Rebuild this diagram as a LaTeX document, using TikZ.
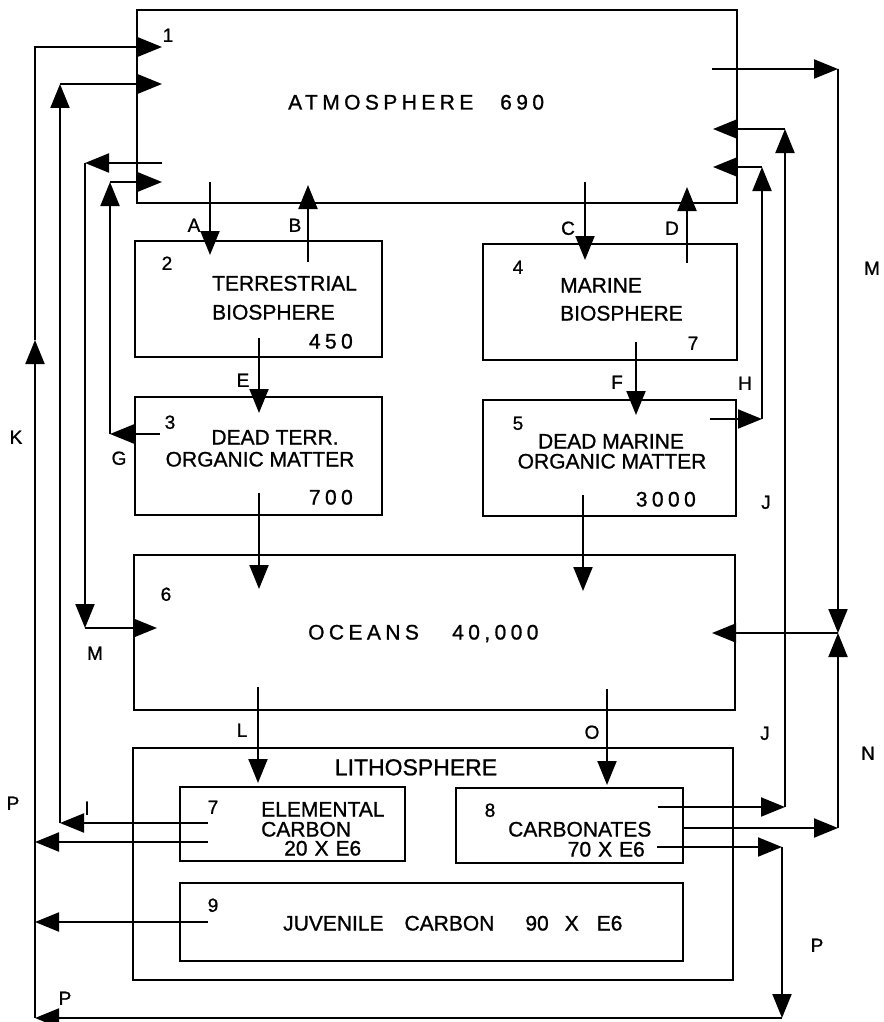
\documentclass[tikz,border=0pt]{standalone}
\usepackage{fontspec}
\setmainfont[FakeBold=1]{Liberation Sans}
\newfontfamily\spacedfont[LetterSpace=21,FakeBold=1]{Liberation Sans}
\usetikzlibrary{arrows.meta}
\begin{document}
\begin{tikzpicture}[x=1pt,y=-1pt,
  box/.style={draw, line width=2pt, inner sep=0pt},
  arr/.style={line width=2pt, -{Triangle[length=24pt,width=19pt]}},
  txt/.style={inner sep=0pt, text height=15pt, text depth=0pt, font=\fontsize{21pt}{23pt}\selectfont},
  lbl/.style={inner sep=0pt, text height=13.6pt, text depth=0pt, font=\fontsize{19pt}{21pt}\selectfont},
  big/.style={inner sep=0pt, text height=16.5pt, text depth=0pt, font=\fontsize{23pt}{25pt}\selectfont}]
\useasboundingbox (0,0) rectangle (883,1022);
\fill[white] (0,0) rectangle (883,1022);

% ---------- boxes ----------
\node[box, minimum width=600pt, minimum height=193pt] (atm) at (437,106.5) {};
\node[box, minimum width=247pt, minimum height=116pt] (terr) at (258.5,299) {};
\node[box, minimum width=254pt, minimum height=116pt] (mar) at (610,302) {};
\node[box, minimum width=247pt, minimum height=118pt] (deadT) at (258.5,456) {};
\node[box, minimum width=253pt, minimum height=116pt] (deadM) at (609.5,458) {};
\node[box, minimum width=601pt, minimum height=155pt] (oce) at (434.5,632.5) {};
\node[box, minimum width=600pt, minimum height=232pt] (lith) at (433,864) {};
\node[box, minimum width=225pt, minimum height=74pt] (elem) at (292.5,824) {};
\node[box, minimum width=227pt, minimum height=75pt] (carb) at (569.5,825.5) {};
\node[box, minimum width=503pt, minimum height=78pt] (juv) at (431.5,922) {};

% ---------- box texts ----------
\node[txt, anchor=west] (tAtm) at (288,102) {\spacedfont ATMOSPHERE};
\node[txt, anchor=west] (tAtmN) at (500,102) {\spacedfont 690};
\node[lbl] (n1) at (168,35) {1};

\node[lbl] (n2) at (167,263) {2};
\node[txt, anchor=west] (tTer1) at (212,283) {TERRESTRIAL};
\node[txt, anchor=west] (tTer2) at (212,312) {BIOSPHERE};
\node[txt, anchor=east] (tTerN) at (353,341) {\spacedfont 450};

\node[lbl] (n3) at (170,422) {3};
\node[txt] (tDT1) at (275,437) {DEAD TERR.};
\node[txt] (tDT2) at (260,459) {ORGANIC MATTER};
\node[txt, anchor=east] (tDTN) at (353,497) {\spacedfont 700};

\node[lbl] (n4) at (518,267) {4};
\node[txt, anchor=west] (tMar1) at (560,285) {MARINE};
\node[txt, anchor=west] (tMar2) at (560,313) {BIOSPHERE};
\node[lbl] (tMarN) at (693,343) {7};

\node[lbl] (n5) at (518,423) {5};
\node[txt] (tDM1) at (611,441) {DEAD MARINE};
\node[txt] (tDM2) at (612,461) {ORGANIC MATTER};
\node[txt, anchor=east] (tDMN) at (696,499) {\spacedfont 3000};

\node[lbl] (n6) at (166,594) {6};
\node[txt, anchor=west] (tOce) at (308,632) {\spacedfont OCEANS};
\node[txt, anchor=west] (tOceN) at (452,632) {\spacedfont 40,000};

\node[big] (tLith) at (416,767) {LITHOSPHERE};

\node[lbl] (n7) at (213,807) {7};
\node[txt, anchor=west] (tEl1) at (261,809) {ELEMENTAL};
\node[txt, anchor=west] (tEl2) at (261,829) {CARBON};
\node[txt, anchor=west] (tEl3) at (284,848) {20\hspace{7pt}X\hspace{7pt}E6};

\node[lbl] (n8) at (490,810) {8};
\node[txt, anchor=west] (tCa1) at (508,829) {CARBONATES};
\node[txt, anchor=east] (tCa2) at (645,849) {70\hspace{7pt}X\hspace{7pt}E6};

\node[lbl] (n9) at (213,905) {9};
\node[txt, anchor=west] (tJuv) at (283,923) {JUVENILE\hspace*{21pt}CARBON\hspace*{31pt}90\hspace*{16pt}X\hspace*{18pt}E6};

% ---------- connector labels ----------
\node[lbl] (lA) at (194,225) {A};
\node[lbl] (lB) at (295,225) {B};
\node[lbl] (lC) at (568,228) {C};
\node[lbl] (lD) at (672,228) {D};
\node[lbl] (lE) at (243,380) {E};
\node[lbl] (lF) at (617,382) {F};
\node[lbl] (lG) at (119,458) {G};
\node[lbl] (lH) at (745,383) {H};
\node[lbl] (lK) at (16,437) {K};
\node[lbl] (lM1) at (872,268) {M};
\node[lbl] (lM2) at (95,653) {M};
\node[lbl] (lJ1) at (766,502) {J};
\node[lbl] (lJ2) at (765,733) {J};
\node[lbl] (lN) at (868,753) {N};
\node[lbl] (lL) at (242,730) {L};
\node[lbl] (lO) at (592,732) {O};
\node[lbl] (lP1) at (13,803) {P};
\node[lbl] (lI) at (87,808) {I};
\node[lbl] (lP2) at (817,945) {P};
\node[lbl] (lP3) at (65,998) {P};

% ---------- connector points ----------
\coordinate (Kb) at (35,1018);
\coordinate (Km) at (35,340);
\coordinate (Kt) at (35,47);
\coordinate (In1) at (162,47);

\coordinate (Is) at (208,823);
\coordinate (Ib) at (60,823);
\coordinate (It) at (60,84);
\coordinate (In2) at (162,84);

\coordinate (Pe) at (208,842);
\coordinate (Pe2) at (35,842);
\coordinate (Pj) at (208,922);
\coordinate (Pj2) at (35,922);
\coordinate (Pc) at (657,847);
\coordinate (Pc1) at (782,847);
\coordinate (Pc2) at (782,1018);

\coordinate (Ms) at (162,163);
\coordinate (Ma) at (85,163);
\coordinate (Mb) at (85,628);
\coordinate (Me) at (157,628);

\coordinate (Gs) at (160,434);
\coordinate (Ga) at (110,434);
\coordinate (Gb) at (110,182);
\coordinate (Ge) at (162,182);

\coordinate (As) at (210,182);
\coordinate (Ae) at (210,255);
\coordinate (Bs) at (308,262);
\coordinate (Be) at (308,185);
\coordinate (Cs) at (585,182);
\coordinate (Ce) at (585,260);
\coordinate (Ds) at (687,263);
\coordinate (De) at (687,187);
\coordinate (Es) at (259,338);
\coordinate (Ee) at (259,413);
\coordinate (Fs) at (636,342);
\coordinate (Fe) at (636,415);
\coordinate (DTs) at (259,493);
\coordinate (DTe) at (259,589);
\coordinate (DMs) at (583,495);
\coordinate (DMe) at (583,591);
\coordinate (Ls) at (258,687);
\coordinate (Le) at (258,783);
\coordinate (Os) at (607,689);
\coordinate (Oe) at (607,785);

\coordinate (Hs) at (710,419);
\coordinate (Ha) at (762,419);
\coordinate (Hb) at (762,167);
\coordinate (He) at (713,167);

\coordinate (Js) at (658,807);
\coordinate (Ja) at (785,807);
\coordinate (Jb) at (785,129);
\coordinate (Je) at (713,129);

\coordinate (Rs) at (712,69);
\coordinate (Ra) at (838,69);
\coordinate (Rb) at (838,633);
\coordinate (Re) at (712,633);

\coordinate (Ns) at (683,828);
\coordinate (Na) at (838,828);

% ---------- connectors ----------
\draw[arr] (Kb) -- (Km);
\draw[arr] (Km) -- (Kt) -- (In1);

\draw[arr] (Is) -- (Ib);
\draw[arr] (Ib) -- (It);
\draw[arr] (It) -- (In2);

\draw[arr] (Pe) -- (Pe2);
\draw[arr] (Pj) -- (Pj2);
\draw[arr] (Pc) -- (Pc1);
\draw[arr] (Pc1) -- (Pc2);
\draw[arr] (Pc2) -- (Kb);

\draw[arr] (Ms) -- (Ma);
\draw[arr] (Ma) -- (Mb);
\draw[arr] (Mb) -- (Me);

\draw[arr] (Gs) -- (Ga);
\draw[arr] (Ga) -- (Gb);
\draw[arr] (Gb) -- (Ge);

\draw[arr] (As) -- (Ae);
\draw[arr] (Bs) -- (Be);
\draw[arr] (Cs) -- (Ce);
\draw[arr] (Ds) -- (De);
\draw[arr] (Es) -- (Ee);
\draw[arr] (Fs) -- (Fe);
\draw[arr] (DTs) -- (DTe);
\draw[arr] (DMs) -- (DMe);
\draw[arr] (Ls) -- (Le);
\draw[arr] (Os) -- (Oe);

\draw[arr] (Hs) -- (Ha);
\draw[arr] (Ha) -- (Hb);
\draw[arr] (Hb) -- (He);

\draw[arr] (Js) -- (Ja);
\draw[arr] (Ja) -- (Jb);
\draw[arr] (Jb) -- (Je);

\draw[arr] (Rs) -- (Ra);
\draw[arr] (Ra) -- (Rb);
\draw[arr] (Rb) -- (Re);

\draw[arr] (Ns) -- (Na);
\draw[arr] (Na) -- (Rb);
\end{tikzpicture}
\end{document}
